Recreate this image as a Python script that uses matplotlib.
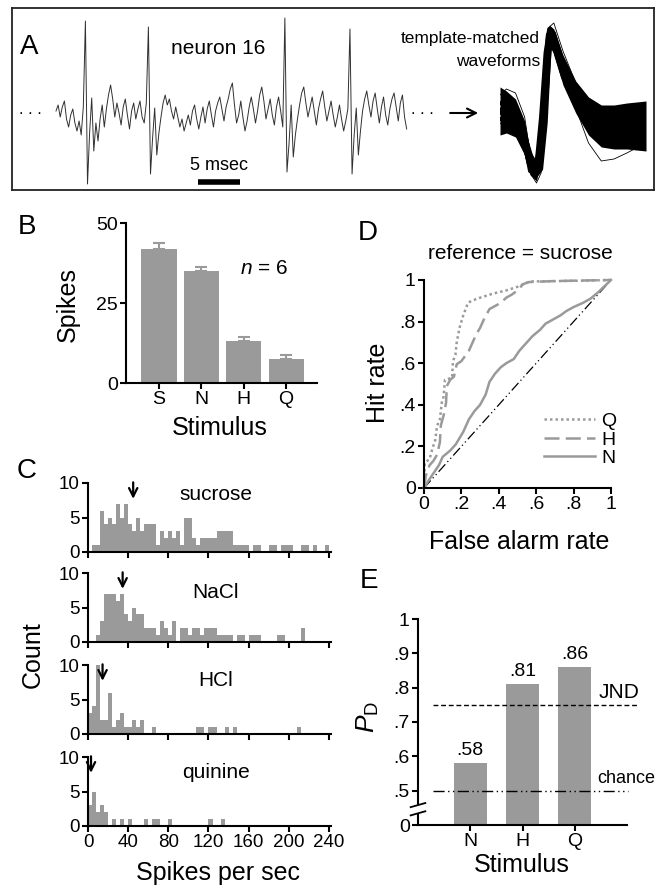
import numpy as np
import matplotlib.pyplot as plt

plt.rcParams['font.family'] = ['Liberation Sans', 'DejaVu Sans']
plt.rcParams['mathtext.fontset'] = 'custom'
plt.rcParams['mathtext.rm'] = 'Liberation Sans'
plt.rcParams['mathtext.it'] = 'Liberation Sans:italic'
plt.rcParams['axes.linewidth'] = 1.5
plt.rcParams['xtick.major.width'] = 1.5
plt.rcParams['ytick.major.width'] = 1.5
plt.rcParams['xtick.major.size'] = 4
plt.rcParams['ytick.major.size'] = 4
plt.rcParams['xtick.labelsize'] = 14
plt.rcParams['ytick.labelsize'] = 14

GRAY = '#9a9a9a'

# ---------------------------
# Data
# ---------------------------
# A: raw trace (0.25 ms samples) and template-matched waveforms
trace_dt = 0.25
trace_v = [2, 8, -4, 6, 12, -6, -14, -2, 4, -10, -18, -8, -22, 6,
           92, -71, -20, 15,
           -38, -10, -28, -6, 8, -14, 4, 18, 28, 14, -4, 10, 0, -12, 6, 14,
           -2, -16, 2, 10, -6, 4, 12, -4, -10, 10,
           86, -61, -25, 5,
           -42, -20, -4, 10, 18, 8, 14, 2, -6, 6, -4, -14, -6, -18, -10, -2,
           -12, 2, 8, -6, -16, -4, 6, -10, 4, 12, -2, -14, 2, 10, 16, 4,
           -8, 6, 14, 24, 30, 8, -10, -2, 12, -4, -18, -8, 6, 16, 4, -10,
           2, 18, 26, 12, -6, 4, 14, -2, -12, 6, 16, 2, -14,
           95, -59, -30, 8,
           -44, -22, -6, 8, 20, 26, 10, -4, 6, 16, 2, -12, 4, 14, 22, 6,
           -8, 2, 12, -2, -14, -4, 8, -6, -18, -8, 4,
           84, -61, -22, 5,
           -42, -18, 2, 14, 22, 8, -4, 12, 20, 4, -10, 6, 16, -2, -12, 4,
           14, 20, 6, -8, 10, 18, -4, -16]
wave_t = [0, 0.07, 0.17, 0.27, 0.33, 0.40, 0.45, 0.50, 0.54, 0.59, 0.69,
          0.83, 0.97, 1.11, 1.25, 1.39, 1.60]
wave_mid = [2, 0, -6, -26, -50, -58, -32, 25, 78, 72, 42, 14, -4, -13, -16, -15, -14]
wave_hi = [26, 22, 14, -8, -38, -48, -20, 40, 88, 84, 58, 32, 16, 8, 8, 10, 12]
wave_lo = [-22, -20, -24, -42, -62, -68, -44, 10, 66, 60, 28, 0, -22, -34, -36, -36, -38]
wave_early = [10, 8, 0, -30, -58, -52, -5, 60, 84, 66, 36, 10, -8, -16, -18, -16, -12]
wave_late = [-6, -8, -14, -22, -40, -62, -56, -10, 62, 80, 50, 20, 0, -10, -14, -14, -16]
wave_out1 = [18, 24, 20, -4, -40, -66, -50, 10, 86, 90, 62, 30, 8, -4, -8, -6, 2]
wave_out2 = [-10, -14, -20, -40, -60, -70, -60, -10, 60, 70, 40, 5, -30, -48, -46, -40, -30]

# B: mean spikes per stimulus
stim_b = ['S', 'N', 'H', 'Q']
spikes_mean = [42, 35, 13.2, 7.5]
spikes_sem = [1.8, 1.3, 1.3, 1.2]

# C: trial histograms (4 spikes/sec bins)
hist_names = ['sucrose', 'NaCl', 'HCl', 'quinine']
bin_width = 4
sucrose_counts = [0, 1, 1, 6, 4, 5, 4, 7, 5, 7, 4, 3, 5, 3, 4, 4, 4, 1, 3, 2,
                  3, 2, 3, 1, 5, 5, 2, 1, 2, 2, 2, 2, 3, 3, 3, 3, 1, 1, 1, 1,
                  0, 1, 1, 0, 0, 1, 1, 0, 1, 1, 1, 0, 0, 1, 1, 0, 1, 0, 0, 1]
nacl_counts = [0, 0, 1, 3, 7, 7, 7, 6, 7, 4, 3, 5, 4, 4, 2, 2, 2, 1, 3, 2,
               1, 3, 0, 2, 2, 1, 2, 2, 1, 2, 2, 2, 1, 1, 1, 1, 0, 1, 1, 0,
               1, 1, 1, 0, 0, 0, 0, 1, 1, 0, 0, 0, 0, 2, 0, 0, 0, 0, 0, 0]
hcl_counts = [3, 4, 10, 2, 2, 6, 1, 2, 3, 1, 1, 2, 1, 2, 0, 0, 1, 0, 0, 0,
              0, 0, 0, 0, 0, 0, 0, 1, 1, 0, 1, 1, 0, 0, 1, 0, 1, 0, 0, 0,
              0, 0, 0, 0, 0, 0, 0, 0, 0, 0, 0, 0, 1, 0, 0, 0, 0, 0, 0, 0]
quinine_counts = [3, 5, 2, 3, 2, 0, 1, 0, 1, 0, 1, 0, 0, 0, 1, 0, 1, 1, 0, 0,
                  1, 0, 0, 0, 0, 0, 0, 0, 0, 0, 1, 0, 0, 1, 0, 0, 0, 0, 0, 0,
                  0, 0, 0, 0, 0, 0, 0, 0, 0, 0, 0, 0, 0, 0, 0, 0, 0, 0, 0, 0]
hist_means = [45, 34.5, 14.5, 3]

# D: ROC curves, reference = sucrose
roc_q_fa = [0, 0.004, 0.03, 0.045, 0.06, 0.07, 0.085, 0.095, 0.105, 0.112, 0.15,
            0.155, 0.168, 0.175, 0.19, 0.21, 0.235, 0.255, 0.30, 0.37, 0.44,
            0.51, 0.54, 0.58, 0.80, 1.0]
roc_q_hit = [0, 0.12, 0.14, 0.19, 0.23, 0.30, 0.33, 0.41, 0.44, 0.52, 0.53,
             0.61, 0.64, 0.70, 0.77, 0.83, 0.89, 0.90, 0.915, 0.935, 0.95,
             0.97, 0.985, 0.993, 0.996, 1.0]
roc_h_fa = [0, 0.01, 0.03, 0.05, 0.07, 0.085, 0.09, 0.105, 0.118, 0.122, 0.14,
            0.16, 0.175, 0.20, 0.22, 0.24, 0.26, 0.28, 0.30, 0.32, 0.35, 0.38,
            0.41, 0.44, 0.47, 0.50, 0.53, 0.56, 0.70, 1.0]
roc_h_hit = [0, 0.06, 0.11, 0.13, 0.16, 0.22, 0.30, 0.35, 0.41, 0.49, 0.52,
             0.535, 0.595, 0.61, 0.635, 0.66, 0.70, 0.74, 0.77, 0.81, 0.86,
             0.875, 0.89, 0.915, 0.93, 0.95, 0.98, 0.99, 0.995, 1.0]
roc_n_fa = [0, .02, .05, .08, .10, .14, .17, .21, .24, .27, .30, .33, .35, .38,
            .41, .44, .48, .51, .55, .58, .62, .65, .69, .73, .76, .80, .85,
            .89, .93, 1]
roc_n_hit = [0, .03, .07, .11, .15, .18, .21, .27, .33, .37, .40, .45, .51, .55,
             .58, .60, .62, .66, .70, .73, .76, .79, .81, .83, .85, .87, .89,
             .91, .94, 1]

# E: proportion discriminated
pd_stim = ['N', 'H', 'Q']
pd_vals = [0.58, 0.81, 0.86]
jnd = 0.75
chance = 0.5

# ---------------------------
# Layout helpers (reference pixel boxes)
# ---------------------------
W, H = 663, 886
fig = plt.figure(figsize=(W / 100, H / 100), dpi=100)


def box(x0, y0, x1, y1):
    return [x0 / W, 1 - y1 / H, (x1 - x0) / W, (y1 - y0) / H]


def ftext(x, y, s, **kw):
    kw.setdefault('ha', 'center')
    kw.setdefault('va', 'center')
    fig.text(x / W, 1 - y / H, s, **kw)


def clean(ax):
    ax.spines['top'].set_visible(False)
    ax.spines['right'].set_visible(False)
    ax.tick_params(direction='out', pad=2)


# ---------------------------
# A - trace
# ---------------------------
ax_a = fig.add_axes(box(12, 8, 654, 190))
t = np.arange(len(trace_v)) * trace_dt
ax_a.plot(t, trace_v, color='#303030', lw=0.7)
ax_a.set_xlim(-5.24, 71.2)
ax_a.set_ylim(-77, 105)
ax_a.set_xticks([])
ax_a.set_yticks([])
for s in ax_a.spines.values():
    s.set_linewidth(1.3)
    s.set_color('#222222')
ax_a.plot([16.9, 21.9], [-69, -69], color='black', lw=4, solid_capstyle='butt')
ax_a.text(-3.1, -1, '. . .', fontsize=12, ha='center', va='baseline')
ax_a.text(43.6, -1, '. . .', fontsize=12, ha='center', va='baseline')
ax_a.annotate('', xy=(50.6, 0), xytext=(46.6, 0),
              arrowprops=dict(arrowstyle='->', lw=1.5, color='black',
                              mutation_scale=16))

ax_w = fig.add_axes(box(500, 8, 646, 190))
ax_w.fill_between(wave_t, wave_lo, wave_hi, color='black', lw=0)
ax_w.plot(wave_t, wave_mid, color='black', lw=5)
ax_w.plot(wave_t, wave_early, color='black', lw=3)
ax_w.plot(wave_t, wave_late, color='black', lw=3)
ax_w.plot(wave_t, wave_out1, color='black', lw=0.6)
ax_w.plot(wave_t, wave_out2, color='black', lw=0.6)
ax_w.set_xlim(0, 1.6)
ax_w.set_ylim(-77, 105)
ax_w.axis('off')

ftext(29, 47, 'A', fontsize=20)
ftext(218, 48, 'neuron 16', fontsize=15)
ftext(540, 39, 'template-matched', fontsize=12.5, ha='right')
ftext(540, 62, 'waveforms', fontsize=12.5, ha='right')
ftext(219, 165, '5 msec', fontsize=13)

# ---------------------------
# B - mean spikes
# ---------------------------
ax_b = fig.add_axes(box(126, 223, 317, 383))
xb = np.arange(len(stim_b))
ax_b.bar(xb, spikes_mean, width=0.83, color=GRAY)
ax_b.errorbar(xb, spikes_mean, yerr=[np.zeros(len(xb)), spikes_sem], fmt='none',
              ecolor=GRAY, elinewidth=1.5, capsize=4, capthick=1.5)
ax_b.set_xlim(-0.78, 3.73)
ax_b.set_ylim(0, 50)
ax_b.set_yticks([0, 25, 50])
ax_b.set_xticks(xb, stim_b)
clean(ax_b)
ftext(27, 227, 'B', fontsize=20)
ftext(68, 305, 'Spikes', fontsize=18, rotation=90)
ftext(220, 428, 'Stimulus', fontsize=18)
ftext(264, 269, r'$\mathit{n}$ = 6', fontsize=15)

# ---------------------------
# C - histograms
# ---------------------------
hists = [sucrose_counts, nacl_counts, hcl_counts, quinine_counts]
tops = [483, 573, 665, 757]
label_y = [8.4, 7.2, 7.8, 7.7]
edges = np.arange(len(sucrose_counts)) * bin_width
for i, counts in enumerate(hists):
    ax = fig.add_axes(box(88, tops[i], 331, tops[i] + 69))
    ax.bar(edges, counts, width=bin_width, align='edge', color=GRAY, lw=0)
    ax.set_xlim(0, 242)
    ax.set_ylim(0, 10)
    ax.set_yticks([0, 5, 10])
    ax.set_xticks(np.arange(0, 241, 40))
    ax.tick_params(labelsize=13.5)
    if i < 3:
        ax.set_xticklabels([])
    clean(ax)
    ax.text(127, label_y[i], hist_names[i], fontsize=15, ha='center', va='center')
    ax.annotate('', xy=(hist_means[i], 7.3), xytext=(hist_means[i], 10.5),
                arrowprops=dict(arrowstyle='->', lw=1.6, color='black',
                                mutation_scale=15),
                annotation_clip=False)
ftext(27, 471, 'C', fontsize=20)
ftext(33, 655, 'Count', fontsize=18, rotation=90)
ftext(218, 873, 'Spikes per sec', fontsize=18)

# ---------------------------
# D - ROC
# ---------------------------
ax_d = fig.add_axes(box(424, 280, 611, 488))
ax_d.plot([0, 1], [0, 1], color='black', lw=0.9, ls=(0, (8, 2.5, 1, 2.5, 1, 2.5)))
ax_d.plot(roc_q_fa, roc_q_hit, color=GRAY, lw=1.8, ls=(0, (1, 1.2)), label='Q',
          clip_on=False)
ax_d.plot(roc_h_fa, roc_h_hit, color=GRAY, lw=1.8, ls=(0, (6, 2.5)), label='H',
          clip_on=False)
ax_d.plot(roc_n_fa, roc_n_hit, color=GRAY, lw=1.8, label='N', clip_on=False)
ax_d.set_xlim(0, 1)
ax_d.set_ylim(0, 1)
ticks = [0, 0.2, 0.4, 0.6, 0.8, 1]
tick_lbl = ['0', '.2', '.4', '.6', '.8', '1']
ax_d.set_xticks(ticks, tick_lbl)
ax_d.set_yticks(ticks, tick_lbl)
clean(ax_d)
ax_d.legend(loc='lower right', bbox_to_anchor=(1.03, 0.1), frameon=False,
            fontsize=14, handlelength=2.6, handletextpad=0.35,
            labelspacing=0.05, borderpad=0, borderaxespad=0)
ftext(368, 233, 'D', fontsize=20)
ftext(520, 253, 'reference = sucrose', fontsize=15)
ftext(378, 383, 'Hit rate', fontsize=18, rotation=90)
ftext(519, 542, 'False alarm rate', fontsize=18)

# ---------------------------
# E - P(D)
# ---------------------------
base = 0.4
ax_e = fig.add_axes(box(418, 619, 627, 825))
xe = np.arange(1, len(pd_stim) + 1)
ax_e.bar(xe, np.array(pd_vals) - base, bottom=base, width=0.63, color=GRAY)
for x, v in zip(xe, pd_vals):
    ax_e.text(x, v + 0.012, ('%.2f' % v)[1:], fontsize=14, ha='center', va='bottom')
ax_e.axhline(jnd, xmin=0.072, xmax=1.053, color='black', lw=1,
             ls=(0, (3.5, 2)), clip_on=False)
ax_e.axhline(chance, xmin=0.072, xmax=1.005, color='black', lw=1,
             ls=(0, (8, 2.5, 1, 2.5, 1, 2.5)), clip_on=False)
ax_e.set_xlim(0, 4)
ax_e.set_ylim(base, 1)
ax_e.set_yticks([0.4, 0.5, 0.6, 0.7, 0.8, 0.9, 1.0],
                ['0', '.5', '.6', '.7', '.8', '.9', '1'])
ax_e.set_xticks(xe, pd_stim)
clean(ax_e)
# axis break marks
yt = ax_e.get_yaxis_transform()
ax_e.add_patch(plt.Rectangle((-0.02, 0.437), 0.04, 0.02, transform=yt,
                             color='white', clip_on=False, zorder=5))
ax_e.plot([-0.035, 0.035], [0.428, 0.44], transform=yt, color='black', lw=1.3,
          clip_on=False, zorder=6)
ax_e.plot([-0.035, 0.035], [0.452, 0.464], transform=yt, color='black', lw=1.3,
          clip_on=False, zorder=6)
ax_e.text(3.85, 0.787, 'JND', fontsize=15, ha='center', va='center')
ax_e.text(3.98, 0.535, 'chance', fontsize=13, ha='center', va='center')
ftext(369, 581, 'E', fontsize=20)
ftext(368, 717, r'$\mathit{P}_{\mathrm{D}}$', fontsize=19, rotation=90)
ftext(522, 865, 'Stimulus', fontsize=18)

fig.savefig('out.png', dpi=100)
